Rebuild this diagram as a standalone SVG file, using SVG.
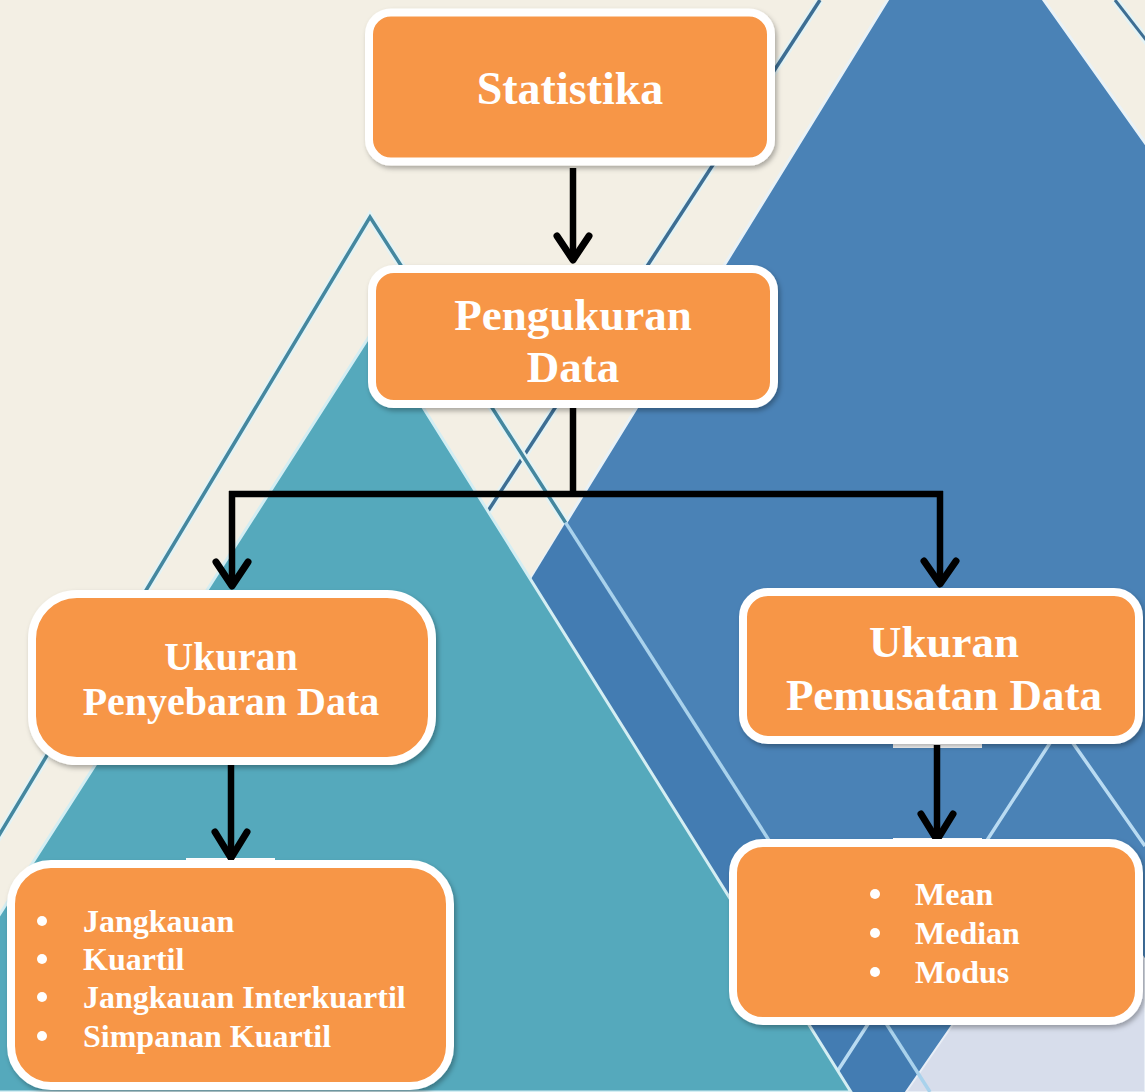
<svg xmlns="http://www.w3.org/2000/svg" width="1145" height="1092" viewBox="0 0 1145 1092">
<defs>
<style>
.box{fill:#F79646;stroke:#FFFFFF;stroke-width:8;filter:url(#sh)}
.t{font-family:"Liberation Serif","Times New Roman",serif;font-weight:bold;fill:#FFFFFF;text-anchor:middle}
.li{font-family:"Liberation Serif","Times New Roman",serif;font-weight:bold;fill:#FFFFFF;font-size:32px}
.bul{fill:#FFFFFF}
.stem{stroke:#000;stroke-width:6.5;fill:none}
.chev{stroke:#000;stroke-width:7;fill:none;stroke-linecap:round;stroke-linejoin:round}
.halo{stroke:#E4F3F5;stroke-width:8;fill:none}
.dk{stroke:#44879F;stroke-width:3.5;fill:none}
.lt{stroke:#A9D2EC;stroke-width:3.5;fill:none}
</style>
<filter id="sh" x="-10%" y="-10%" width="120%" height="130%">
<feDropShadow dx="2" dy="3" stdDeviation="2.5" flood-color="#000" flood-opacity="0.3"/>
</filter>
</defs>
<g id="background">
<rect x="0" y="0" width="1145" height="1092" fill="#F3EFE4"/>
<line class="halo" x1="1115" y1="0" x2="1160" y2="58"/>
<line x1="1115" y1="0" x2="1160" y2="58" stroke="#3D6E93" stroke-width="3"/>
<polygon points="960,-118 1300,361 1300,1200 149,1200" fill="#4A82B6" stroke="#E9F2F7" stroke-width="3"/>
<polygon points="531,579 565.6,522.6 930,1092 851,1092" fill="#437CB2"/>
<polygon points="906,1092 1072,852 1145,960 1145,1092" fill="#D7DDEB" stroke="#E8EEF6" stroke-width="2"/>
<polyline points="824,1092 1061,726 1145,846" fill="none" stroke="#B9DBF2" stroke-width="3.5"/>
<line class="halo" x1="820" y1="0" x2="488" y2="511"/>
<line x1="820" y1="0" x2="488" y2="511" stroke="#3D6E93" stroke-width="3.5"/>
<polygon points="374,329 851,1092 -114,1092" fill="#55A9BC" stroke="#D4EEF3" stroke-width="3"/>
<polyline class="halo" points="-155,1092 370,217 565.6,522.6"/>
<polyline class="dk" points="-155,1092 370,217 565.6,522.6"/>
<line class="lt" x1="565.6" y1="522.6" x2="930" y2="1092"/>
</g>
<g id="connectors">
<line class="stem" x1="573" y1="168" x2="573" y2="258"/>
<polyline class="chev" points="557,236 573,260 589,236"/>
<polyline class="stem" points="573,407 573,494"/>
<polyline class="stem" points="229,494 943,494"/>
<line class="stem" x1="232" y1="491" x2="232" y2="584"/>
<polyline class="chev" points="216,562 232,586 248,562"/>
<line class="stem" x1="940" y1="491" x2="940" y2="582"/>
<polyline class="chev" points="924,561 940,584 956,561"/>
<rect x="186" y="757" width="89" height="8" fill="#FFFFFF"/>
<rect x="186" y="858" width="89" height="9" fill="#FFFFFF"/>
<line class="stem" x1="231" y1="763" x2="231" y2="856"/>
<polyline class="chev" points="215,832 231,858 247,832"/>
<rect x="893" y="740" width="89" height="8" fill="#FFFFFF"/>
<rect x="893" y="838" width="89" height="9" fill="#FFFFFF"/>
<line class="stem" x1="937" y1="745" x2="937" y2="838"/>
<polyline class="chev" points="921,814 937,840 953,814"/>
</g>
<g id="node-statistika">
<rect class="box" x="369" y="12.5" width="402" height="149" rx="22"/>
<text class="t" x="570" y="104" font-size="46">Statistika</text>
</g>
<g id="node-pengukuran">
<rect class="box" x="372" y="269" width="402" height="135" rx="22"/>
<text class="t" x="573" y="330" font-size="45">Pengukuran</text>
<text class="t" x="573" y="382" font-size="45">Data</text>
</g>
<g id="node-penyebaran">
<rect class="box" x="32" y="594" width="400" height="167" rx="45"/>
<text class="t" x="231" y="670" font-size="40">Ukuran</text>
<text class="t" x="231" y="715" font-size="40">Penyebaran Data</text>
</g>
<g id="node-pemusatan">
<rect class="box" x="743" y="592" width="396" height="148" rx="25"/>
<text class="t" x="944" y="657" font-size="45">Ukuran</text>
<text class="t" x="944" y="710" font-size="45">Pemusatan Data</text>
</g>
<g id="node-list-penyebaran">
<rect class="box" x="11" y="864" width="439" height="222" rx="40"/>
<circle class="bul" cx="42" cy="921" r="5"/>
<circle class="bul" cx="42" cy="959" r="5"/>
<circle class="bul" cx="42" cy="997" r="5"/>
<circle class="bul" cx="42" cy="1036" r="5"/>
<text class="li" x="83" y="932">Jangkauan</text>
<text class="li" x="83" y="970">Kuartil</text>
<text class="li" x="83" y="1008">Jangkauan Interkuartil</text>
<text class="li" x="83" y="1047">Simpanan Kuartil</text>
</g>
<g id="node-list-pemusatan">
<rect class="box" x="733" y="843" width="406" height="178" rx="30"/>
<circle class="bul" cx="875" cy="894" r="5"/>
<circle class="bul" cx="875" cy="933" r="5"/>
<circle class="bul" cx="875" cy="972" r="5"/>
<text class="li" x="915" y="905">Mean</text>
<text class="li" x="915" y="944">Median</text>
<text class="li" x="915" y="983">Modus</text>
</g>
</svg>
